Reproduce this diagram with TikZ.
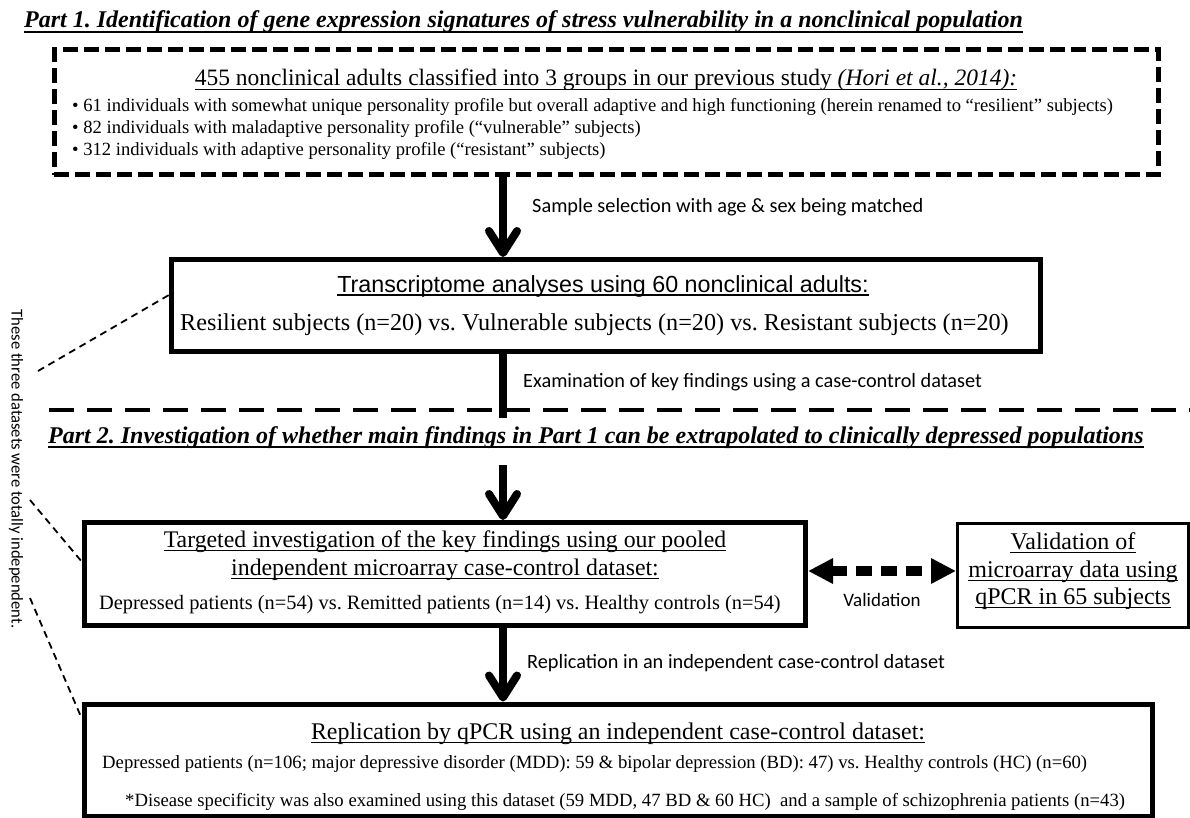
\documentclass[tikz,border=0pt]{standalone}
\usepackage{fontspec}
\setmainfont{Liberation Serif}
\newfontfamily\calib{Carlito}
\newfontfamily\arialf{Liberation Sans}
\usetikzlibrary{arrows.meta,calc}
\newcommand\fs[1]{\fontsize{#1}{#1}\selectfont}
\newcommand\undl[2][3.5]{\draw[line width=1.2pt] ($(#2.base west)+(0,#1)$) -- ($(#2.base east)+(0,#1)$);}
\frenchspacing
\begin{document}
\begin{tikzpicture}[x=1pt,y=-1pt,
  box/.style={draw,line width=5pt,inner sep=0pt},
  txt/.style={inner sep=0pt,anchor=base},
  txtl/.style={inner sep=0pt,anchor=base west},
  lbl/.style={inner sep=0pt,anchor=base west,font=\calib\fs{20.3}},
  bigarrow/.style={line width=8pt,-{Straight Barb[round,length=22pt,width=28pt]}},
  shaft/.style={line width=8pt},
  thindash/.style={line width=1.8pt,dash pattern=on 7pt off 5pt},
  ttl/.style={inner sep=0pt,anchor=base west,font=\fs{24}\bfseries\itshape}
]
\fill[white] (0,0) rectangle (1190,818);
\useasboundingbox (0,0) rectangle (1190,818);
\coordinate (ax) at (503,0);
\coordinate (vy) at (0,571);

% Part 1
\node[ttl] (t1) at (24,28) {Part 1. Identification of gene expression signatures of stress vulnerability in a nonclinical population};
\undl[4]{t1}

\node[box,dash pattern=on 15pt off 6pt,minimum width=1104pt,minimum height=125.5pt] (b1) at (606,112.25) {};
\node[txt,font=\fs{23.5}] (h1) at (606,86) {455 nonclinical adults classified into 3 groups in our previous study \textit{(Hori et al., 2014):}};
\undl{h1}
\node[txtl,font=\fs{18.6}] (p1) at (72,112) {• 61 individuals with somewhat unique personality profile but overall adaptive and high functioning (herein renamed to “resilient” subjects)};
\node[txtl,font=\fs{18.6}] (p2) at (72,134) {• 82 individuals with maladaptive personality profile (“vulnerable” subjects)};
\node[txtl,font=\fs{18.6}] (p3) at (72,156) {• 312 individuals with adaptive personality profile (“resistant” subjects)};

\node[box,minimum width=868.5pt,minimum height=92pt] (b2) at (606,305.5) {};
\node[txt,font=\arialf\fs{23.3}] (h2) at (603,292) {Transcriptome analyses using 60 nonclinical adults:};
\undl[3]{h2}
\node[txtl,font=\fs{24.2}] (r2) at (180,330) {Resilient subjects (n=20) vs. Vulnerable subjects (n=20) vs. Resistant subjects (n=20)};

\draw[bigarrow] (b1.south -| ax) -- (b2.north -| ax);
\node[lbl] (l1) at (532,213) {Sample selection with age \& sex being matched};

% separator
\coordinate (sepL) at (49,410);
\coordinate (sepR) at (1190,410);
\draw[line width=4pt,dash pattern=on 25pt off 13pt] (sepL) -- (sepR);
\coordinate (s2end) at (503,418);
\draw[shaft] (b2.south -| ax) -- (s2end);
\node[lbl] (l2) at (523,387) {Examination of key findings using a case-control dataset};

% Part 2
\node[ttl] (t2) at (48,443) {Part 2. Investigation of whether main findings in Part 1 can be extrapolated to clinically depressed populations};
\undl[4]{t2}

\node[box,minimum width=721pt,minimum height=102.5pt] (b3) at (445,573.75) {};
\node[txt,font=\fs{23.8}] (b3a) at (445,547) {Targeted investigation of the key findings using our pooled};
\undl{b3a}
\node[txt,font=\fs{23.8}] (b3b) at (445,575) {independent microarray case-control dataset:};
\undl{b3b}
\node[txtl,font=\fs{20.4}] (b3c) at (99,609) {Depressed patients (n=54) vs. Remitted patients (n=14) vs. Healthy controls (n=54)};

\coordinate (a3s) at (503,465);
\draw[bigarrow] (a3s) -- (b3.north -| ax);

\node[box,line width=3pt,minimum width=230.5pt,minimum height=104.3pt] (vb) at (1072.75,575.15) {};
\node[txt,font=\fs{24}] (v1) at (1073,549) {Validation of};
\undl{v1}
\node[txt,font=\fs{24}] (v2) at (1073,577) {microarray data using};
\undl{v2}
\node[txt,font=\fs{24}] (v3) at (1073,604) {qPCR in 65 subjects};
\undl{v3}

\draw[line width=10pt,dash pattern=on 16pt off 9pt,{Triangle[length=25pt,width=24pt]}-{Triangle[length=25pt,width=24pt]}] (b3.east |- vy) -- (vb.west |- vy);
\node[txt,font=\calib\fs{19}] (l3) at (882,606) {Validation};

\node[box,minimum width=1068pt,minimum height=112pt] (b4) at (618.5,760) {};
\draw[bigarrow] (b3.south -| ax) -- (b4.north -| ax);
\node[lbl] (l4) at (527,668) {Replication in an independent case-control dataset};

\node[txt,font=\fs{23.9}] (b4a) at (618,739) {Replication by qPCR using an independent case-control dataset:};
\undl{b4a}
\node[txtl,font=\fs{18.7}] (b4b) at (102,768) {Depressed patients (n=106; major depressive disorder (MDD): 59 \& bipolar depression (BD): 47) vs. Healthy controls (HC) (n=60)};
\node[txtl,font=\fs{18.7}] (b4c) at (125,806) {*Disease specificity was also examined using this dataset (59 MDD, 47 BD \& 60 HC)\ \ and a sample of schizophrenia patients (n=43)};

% side note
\node[inner sep=0pt,rotate=-90,font=\calib\fs{16.6}] (vt) at (16,469) {These three datasets were totally independent.};
\coordinate (d1) at (38,371);
\coordinate (d2) at (30,500);
\coordinate (d3) at (30,598);
\draw[thindash] (d1) -- ($(b2.north west)!0.39!(b2.south west)$);
\draw[thindash] (d2) -- ($(b3.north west)!0.39!(b3.south west)$);
\draw[thindash] (d3) -- ($(b4.north west)!0.15!(b4.south west)$);
\end{tikzpicture}
\end{document}
